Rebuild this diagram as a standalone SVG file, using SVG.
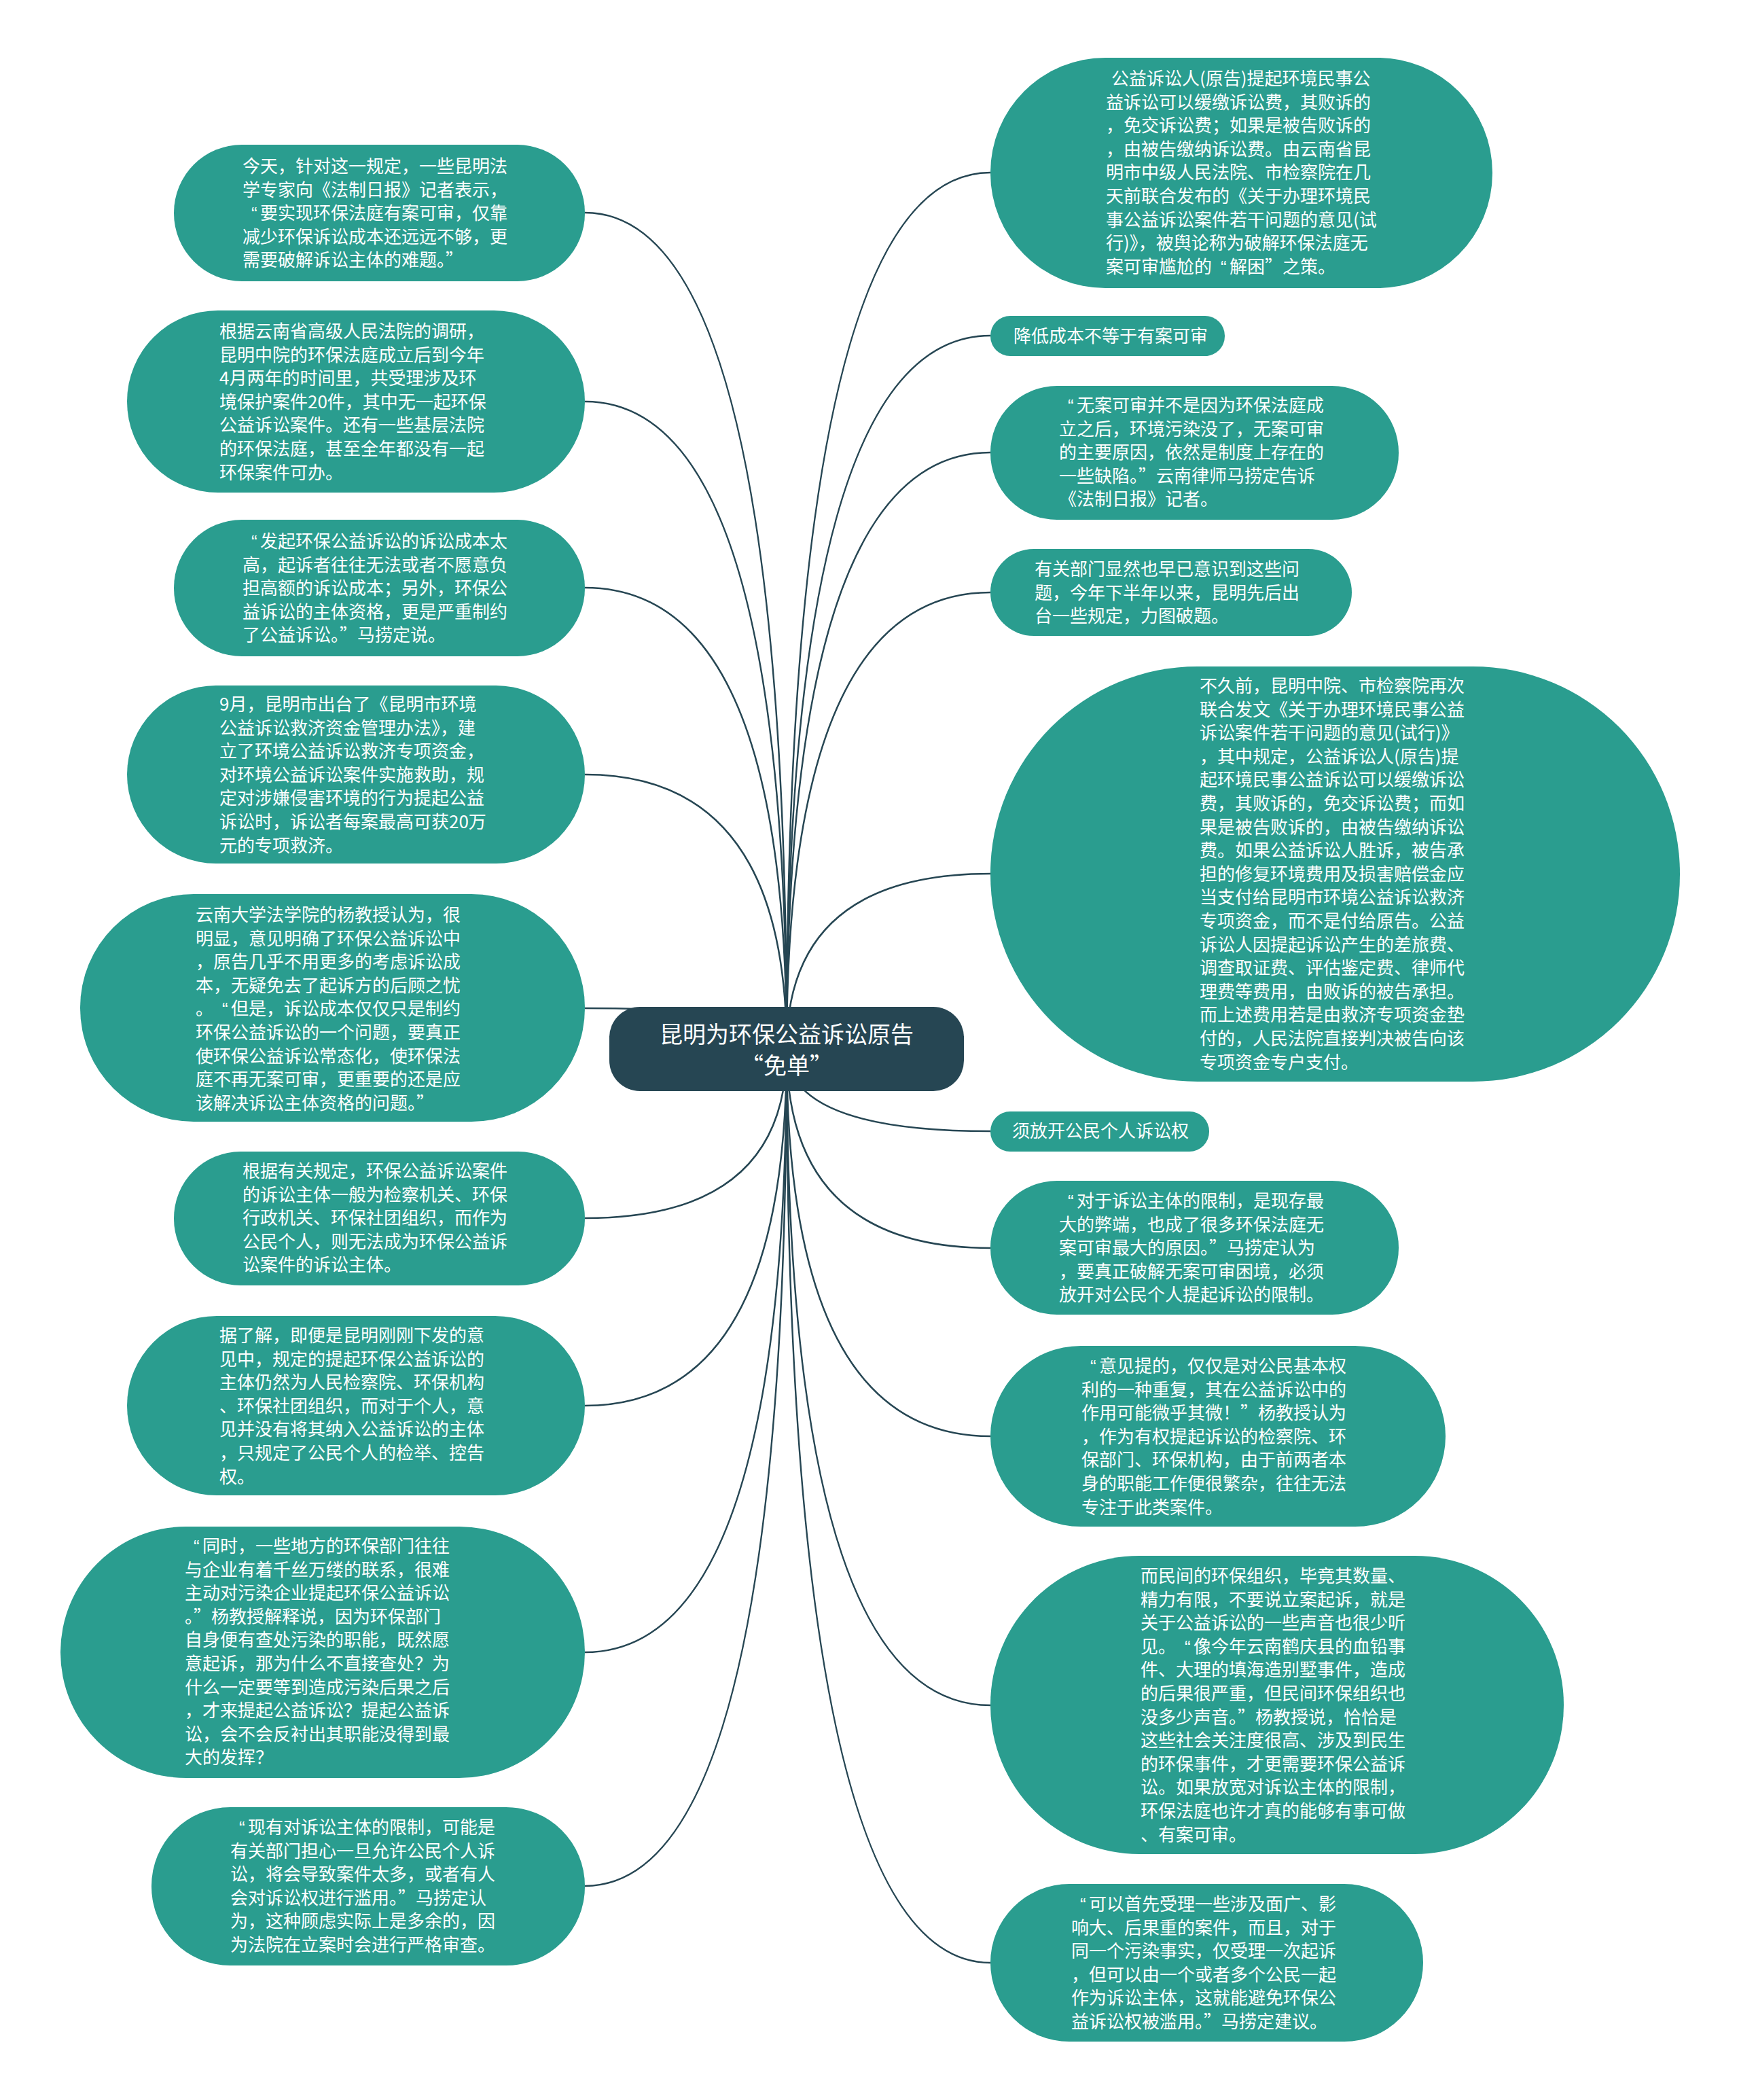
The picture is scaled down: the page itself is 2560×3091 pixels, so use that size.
<svg xmlns="http://www.w3.org/2000/svg" width="2560" height="3091" viewBox="0 0 2560 3091">
<style>
.bg{fill:#ffffff}
.n rect{fill:#2a9d8f}
.c rect{fill:#264653}
text{font-family:"Noto Sans CJK SC","Liberation Sans",sans-serif;fill:#ffffff}
.t{font-size:26px}
.ct{font-size:34px;text-anchor:middle}
.lq{font-family:"Liberation Sans",sans-serif}
.e{fill:none;stroke:#264653;stroke-width:2.5}
</style>
<rect class="bg" x="0" y="0" width="2560" height="3091"/>
<g id="connectors">
<path class="e" d="M1158,1544 Q1158,313 861,313"/>
<path class="e" d="M1158,1544 Q1158,591 861,591"/>
<path class="e" d="M1158,1544 Q1158,865 861,865"/>
<path class="e" d="M1158,1544 Q1158,1140 861,1140"/>
<path class="e" d="M1158,1544 Q1158,1484 861,1484"/>
<path class="e" d="M1158,1544 Q1158,1793 861,1793"/>
<path class="e" d="M1158,1544 Q1158,2069 861,2069"/>
<path class="e" d="M1158,1544 Q1158,2432 861,2432"/>
<path class="e" d="M1158,1544 Q1158,2776 861,2776"/>
<path class="e" d="M1158,1544 Q1158,254 1458,254"/>
<path class="e" d="M1158,1544 Q1158,494 1458,494"/>
<path class="e" d="M1158,1544 Q1158,666 1458,666"/>
<path class="e" d="M1158,1544 Q1158,872 1458,872"/>
<path class="e" d="M1158,1544 Q1158,1286 1458,1286"/>
<path class="e" d="M1158,1544 Q1158,1665 1458,1665"/>
<path class="e" d="M1158,1544 Q1158,1837 1458,1837"/>
<path class="e" d="M1158,1544 Q1158,2114 1458,2114"/>
<path class="e" d="M1158,1544 Q1158,2510 1458,2510"/>
<path class="e" d="M1158,1544 Q1158,2889 1458,2889"/>
</g>
<g id="center" class="c">
<rect x="897" y="1482" width="522" height="124" rx="45" ry="45"/>
<text class="ct"><tspan x="1158" y="1535">昆明为环保公益诉讼原告</tspan><tspan x="1158" y="1581">“免单”</tspan></text>
</g>
<g id="L1" class="n">
<rect x="256" y="213" width="605" height="201" rx="100" ry="100"/>
<text class="t" x="357" y="254"><tspan x="357">今天，针对这一规定，一些昆明法</tspan><tspan x="357" dy="34.6">学专家向《法制日报》记者表示，</tspan><tspan x="357" dy="34.6"><tspan class="lq" dx="13">“</tspan><tspan dx="4.3">要实现环保法庭有案可审，仅靠</tspan></tspan><tspan x="357" dy="34.6">减少环保诉讼成本还远远不够，更</tspan><tspan x="357" dy="34.6">需要破解诉讼主体的难题。”</tspan></text>
</g>
<g id="L2" class="n">
<rect x="187" y="457" width="674" height="268" rx="134" ry="134"/>
<text class="t" x="323" y="497"><tspan x="323">根据云南省高级人民法院的调研，</tspan><tspan x="323" dy="34.6">昆明中院的环保法庭成立后到今年</tspan><tspan x="323" dy="34.6">4月两年的时间里，共受理涉及环</tspan><tspan x="323" dy="34.6">境保护案件20件，其中无一起环保</tspan><tspan x="323" dy="34.6">公益诉讼案件。还有一些基层法院</tspan><tspan x="323" dy="34.6">的环保法庭，甚至全年都没有一起</tspan><tspan x="323" dy="34.6">环保案件可办。</tspan></text>
</g>
<g id="L3" class="n">
<rect x="256" y="765" width="605" height="201" rx="100" ry="100"/>
<text class="t" x="357" y="806"><tspan x="357"><tspan class="lq" dx="13">“</tspan><tspan dx="4.3">发起环保公益诉讼的诉讼成本太</tspan></tspan><tspan x="357" dy="34.6">高，起诉者往往无法或者不愿意负</tspan><tspan x="357" dy="34.6">担高额的诉讼成本；另外，环保公</tspan><tspan x="357" dy="34.6">益诉讼的主体资格，更是严重制约</tspan><tspan x="357" dy="34.6">了公益诉讼。”马捞定说。</tspan></text>
</g>
<g id="L4" class="n">
<rect x="187" y="1009" width="674" height="262" rx="131" ry="131"/>
<text class="t" x="323" y="1046"><tspan x="323">9月，昆明市出台了《昆明市环境</tspan><tspan x="323" dy="34.6">公益诉讼救济资金管理办法》，建</tspan><tspan x="323" dy="34.6">立了环境公益诉讼救济专项资金，</tspan><tspan x="323" dy="34.6">对环境公益诉讼案件实施救助，规</tspan><tspan x="323" dy="34.6">定对涉嫌侵害环境的行为提起公益</tspan><tspan x="323" dy="34.6">诉讼时，诉讼者每案最高可获20万</tspan><tspan x="323" dy="34.6">元的专项救济。</tspan></text>
</g>
<g id="L5" class="n">
<rect x="118" y="1316" width="743" height="335" rx="167" ry="167"/>
<text class="t" x="288" y="1356"><tspan x="288">云南大学法学院的杨教授认为，很</tspan><tspan x="288" dy="34.6">明显，意见明确了环保公益诉讼中</tspan><tspan x="288" dy="34.6">，原告几乎不用更多的考虑诉讼成</tspan><tspan x="288" dy="34.6">本，无疑免去了起诉方的后顾之忧</tspan><tspan x="288" dy="34.6">。<tspan class="lq" dx="13">“</tspan><tspan dx="4.3">但是，诉讼成本仅仅只是制约</tspan></tspan><tspan x="288" dy="34.6">环保公益诉讼的一个问题，要真正</tspan><tspan x="288" dy="34.6">使环保公益诉讼常态化，使环保法</tspan><tspan x="288" dy="34.6">庭不再无案可审，更重要的还是应</tspan><tspan x="288" dy="34.6">该解决诉讼主体资格的问题。”</tspan></text>
</g>
<g id="L6" class="n">
<rect x="256" y="1695" width="605" height="197" rx="98" ry="98"/>
<text class="t" x="357" y="1733"><tspan x="357">根据有关规定，环保公益诉讼案件</tspan><tspan x="357" dy="34.6">的诉讼主体一般为检察机关、环保</tspan><tspan x="357" dy="34.6">行政机关、环保社团组织，而作为</tspan><tspan x="357" dy="34.6">公民个人，则无法成为环保公益诉</tspan><tspan x="357" dy="34.6">讼案件的诉讼主体。</tspan></text>
</g>
<g id="L7" class="n">
<rect x="187" y="1937" width="674" height="264" rx="132" ry="132"/>
<text class="t" x="323" y="1975"><tspan x="323">据了解，即便是昆明刚刚下发的意</tspan><tspan x="323" dy="34.6">见中，规定的提起环保公益诉讼的</tspan><tspan x="323" dy="34.6">主体仍然为人民检察院、环保机构</tspan><tspan x="323" dy="34.6">、环保社团组织，而对于个人，意</tspan><tspan x="323" dy="34.6">见并没有将其纳入公益诉讼的主体</tspan><tspan x="323" dy="34.6">，只规定了公民个人的检举、控告</tspan><tspan x="323" dy="34.6">权。</tspan></text>
</g>
<g id="L8" class="n">
<rect x="89" y="2247" width="772" height="370" rx="185" ry="185"/>
<text class="t" x="272" y="2285"><tspan x="272"><tspan class="lq" dx="13">“</tspan><tspan dx="4.3">同时，一些地方的环保部门往往</tspan></tspan><tspan x="272" dy="34.6">与企业有着千丝万缕的联系，很难</tspan><tspan x="272" dy="34.6">主动对污染企业提起环保公益诉讼</tspan><tspan x="272" dy="34.6">。”杨教授解释说，因为环保部门</tspan><tspan x="272" dy="34.6">自身便有查处污染的职能，既然愿</tspan><tspan x="272" dy="34.6">意起诉，那为什么不直接查处？为</tspan><tspan x="272" dy="34.6">什么一定要等到造成污染后果之后</tspan><tspan x="272" dy="34.6">，才来提起公益诉讼？提起公益诉</tspan><tspan x="272" dy="34.6">讼，会不会反衬出其职能没得到最</tspan><tspan x="272" dy="34.6">大的发挥？</tspan></text>
</g>
<g id="L9" class="n">
<rect x="223" y="2660" width="638" height="233" rx="116" ry="116"/>
<text class="t" x="339" y="2699"><tspan x="339"><tspan class="lq" dx="13">“</tspan><tspan dx="4.3">现有对诉讼主体的限制，可能是</tspan></tspan><tspan x="339" dy="34.6">有关部门担心一旦允许公民个人诉</tspan><tspan x="339" dy="34.6">讼，将会导致案件太多，或者有人</tspan><tspan x="339" dy="34.6">会对诉讼权进行滥用。”马捞定认</tspan><tspan x="339" dy="34.6">为，这种顾虑实际上是多余的，因</tspan><tspan x="339" dy="34.6">为法院在立案时会进行严格审查。</tspan></text>
</g>
<g id="R1" class="n">
<rect x="1458" y="85" width="739" height="339" rx="169" ry="169"/>
<text class="t" x="1628" y="125"><tspan x="1636">公益诉讼人(原告)提起环境民事公</tspan><tspan x="1628" dy="34.6">益诉讼可以缓缴诉讼费，其败诉的</tspan><tspan x="1628" dy="34.6">，免交诉讼费；如果是被告败诉的</tspan><tspan x="1628" dy="34.6">，由被告缴纳诉讼费。由云南省昆</tspan><tspan x="1628" dy="34.6">明市中级人民法院、市检察院在几</tspan><tspan x="1628" dy="34.6">天前联合发布的《关于办理环境民</tspan><tspan x="1628" dy="34.6">事公益诉讼案件若干问题的意见(试</tspan><tspan x="1628" dy="34.6">行)》，被舆论称为破解环保法庭无</tspan><tspan x="1628" dy="34.6">案可审尴尬的<tspan class="lq" dx="13">“</tspan><tspan dx="4.3">解困”之策。</tspan></tspan></text>
</g>
<g id="R2" class="n">
<rect x="1458" y="465" width="345" height="59" rx="29" ry="29"/>
<text class="t" x="1492" y="504">降低成本不等于有案可审</text>
</g>
<g id="R3" class="n">
<rect x="1458" y="568" width="601" height="197" rx="98" ry="98"/>
<text class="t" x="1559" y="606"><tspan x="1559"><tspan class="lq" dx="13">“</tspan><tspan dx="4.3">无案可审并不是因为环保法庭成</tspan></tspan><tspan x="1559" dy="34.6">立之后，环境污染没了，无案可审</tspan><tspan x="1559" dy="34.6">的主要原因，依然是制度上存在的</tspan><tspan x="1559" dy="34.6">一些缺陷。”云南律师马捞定告诉</tspan><tspan x="1559" dy="34.6">《法制日报》记者。</tspan></text>
</g>
<g id="R4" class="n">
<rect x="1458" y="808" width="532" height="128" rx="64" ry="64"/>
<text class="t" x="1523" y="847"><tspan x="1523">有关部门显然也早已意识到这些问</tspan><tspan x="1523" dy="34.6">题，今年下半年以来，昆明先后出</tspan><tspan x="1523" dy="34.6">台一些规定，力图破题。</tspan></text>
</g>
<g id="R5" class="n">
<rect x="1458" y="981" width="1015" height="611" rx="305" ry="305"/>
<text class="t" x="1766" y="1019"><tspan x="1766">不久前，昆明中院、市检察院再次</tspan><tspan x="1766" dy="34.6">联合发文《关于办理环境民事公益</tspan><tspan x="1766" dy="34.6">诉讼案件若干问题的意见(试行)》</tspan><tspan x="1766" dy="34.6">，其中规定，公益诉讼人(原告)提</tspan><tspan x="1766" dy="34.6">起环境民事公益诉讼可以缓缴诉讼</tspan><tspan x="1766" dy="34.6">费，其败诉的，免交诉讼费；而如</tspan><tspan x="1766" dy="34.6">果是被告败诉的，由被告缴纳诉讼</tspan><tspan x="1766" dy="34.6">费。如果公益诉讼人胜诉，被告承</tspan><tspan x="1766" dy="34.6">担的修复环境费用及损害赔偿金应</tspan><tspan x="1766" dy="34.6">当支付给昆明市环境公益诉讼救济</tspan><tspan x="1766" dy="34.6">专项资金，而不是付给原告。公益</tspan><tspan x="1766" dy="34.6">诉讼人因提起诉讼产生的差旅费、</tspan><tspan x="1766" dy="34.6">调查取证费、评估鉴定费、律师代</tspan><tspan x="1766" dy="34.6">理费等费用，由败诉的被告承担。</tspan><tspan x="1766" dy="34.6">而上述费用若是由救济专项资金垫</tspan><tspan x="1766" dy="34.6">付的，人民法院直接判决被告向该</tspan><tspan x="1766" dy="34.6">专项资金专户支付。</tspan></text>
</g>
<g id="R6" class="n">
<rect x="1458" y="1636" width="322" height="59" rx="29" ry="29"/>
<text class="t" x="1490" y="1674">须放开公民个人诉讼权</text>
</g>
<g id="R7" class="n">
<rect x="1458" y="1738" width="601" height="197" rx="98" ry="98"/>
<text class="t" x="1559" y="1777"><tspan x="1559"><tspan class="lq" dx="13">“</tspan><tspan dx="4.3">对于诉讼主体的限制，是现存最</tspan></tspan><tspan x="1559" dy="34.6">大的弊端，也成了很多环保法庭无</tspan><tspan x="1559" dy="34.6">案可审最大的原因。”马捞定认为</tspan><tspan x="1559" dy="34.6">，要真正破解无案可审困境，必须</tspan><tspan x="1559" dy="34.6">放开对公民个人提起诉讼的限制。</tspan></text>
</g>
<g id="R8" class="n">
<rect x="1458" y="1981" width="670" height="266" rx="133" ry="133"/>
<text class="t" x="1592" y="2020"><tspan x="1592"><tspan class="lq" dx="13">“</tspan><tspan dx="4.3">意见提的，仅仅是对公民基本权</tspan></tspan><tspan x="1592" dy="34.6">利的一种重复，其在公益诉讼中的</tspan><tspan x="1592" dy="34.6">作用可能微乎其微！”杨教授认为</tspan><tspan x="1592" dy="34.6">，作为有权提起诉讼的检察院、环</tspan><tspan x="1592" dy="34.6">保部门、环保机构，由于前两者本</tspan><tspan x="1592" dy="34.6">身的职能工作便很繁杂，往往无法</tspan><tspan x="1592" dy="34.6">专注于此类案件。</tspan></text>
</g>
<g id="R9" class="n">
<rect x="1458" y="2290" width="844" height="439" rx="219" ry="219"/>
<text class="t" x="1679" y="2329"><tspan x="1679">而民间的环保组织，毕竟其数量、</tspan><tspan x="1679" dy="34.6">精力有限，不要说立案起诉，就是</tspan><tspan x="1679" dy="34.6">关于公益诉讼的一些声音也很少听</tspan><tspan x="1679" dy="34.6">见。<tspan class="lq" dx="13">“</tspan><tspan dx="4.3">像今年云南鹤庆县的血铅事</tspan></tspan><tspan x="1679" dy="34.6">件、大理的填海造别墅事件，造成</tspan><tspan x="1679" dy="34.6">的后果很严重，但民间环保组织也</tspan><tspan x="1679" dy="34.6">没多少声音。”杨教授说，恰恰是</tspan><tspan x="1679" dy="34.6">这些社会关注度很高、涉及到民生</tspan><tspan x="1679" dy="34.6">的环保事件，才更需要环保公益诉</tspan><tspan x="1679" dy="34.6">讼。如果放宽对诉讼主体的限制，</tspan><tspan x="1679" dy="34.6">环保法庭也许才真的能够有事可做</tspan><tspan x="1679" dy="34.6">、有案可审。</tspan></text>
</g>
<g id="R10" class="n">
<rect x="1458" y="2773" width="637" height="232" rx="116" ry="116"/>
<text class="t" x="1577" y="2812"><tspan x="1577"><tspan class="lq" dx="13">“</tspan><tspan dx="4.3">可以首先受理一些涉及面广、影</tspan></tspan><tspan x="1577" dy="34.6">响大、后果重的案件，而且，对于</tspan><tspan x="1577" dy="34.6">同一个污染事实，仅受理一次起诉</tspan><tspan x="1577" dy="34.6">，但可以由一个或者多个公民一起</tspan><tspan x="1577" dy="34.6">作为诉讼主体，这就能避免环保公</tspan><tspan x="1577" dy="34.6">益诉讼权被滥用。”马捞定建议。</tspan></text>
</g>
</svg>
